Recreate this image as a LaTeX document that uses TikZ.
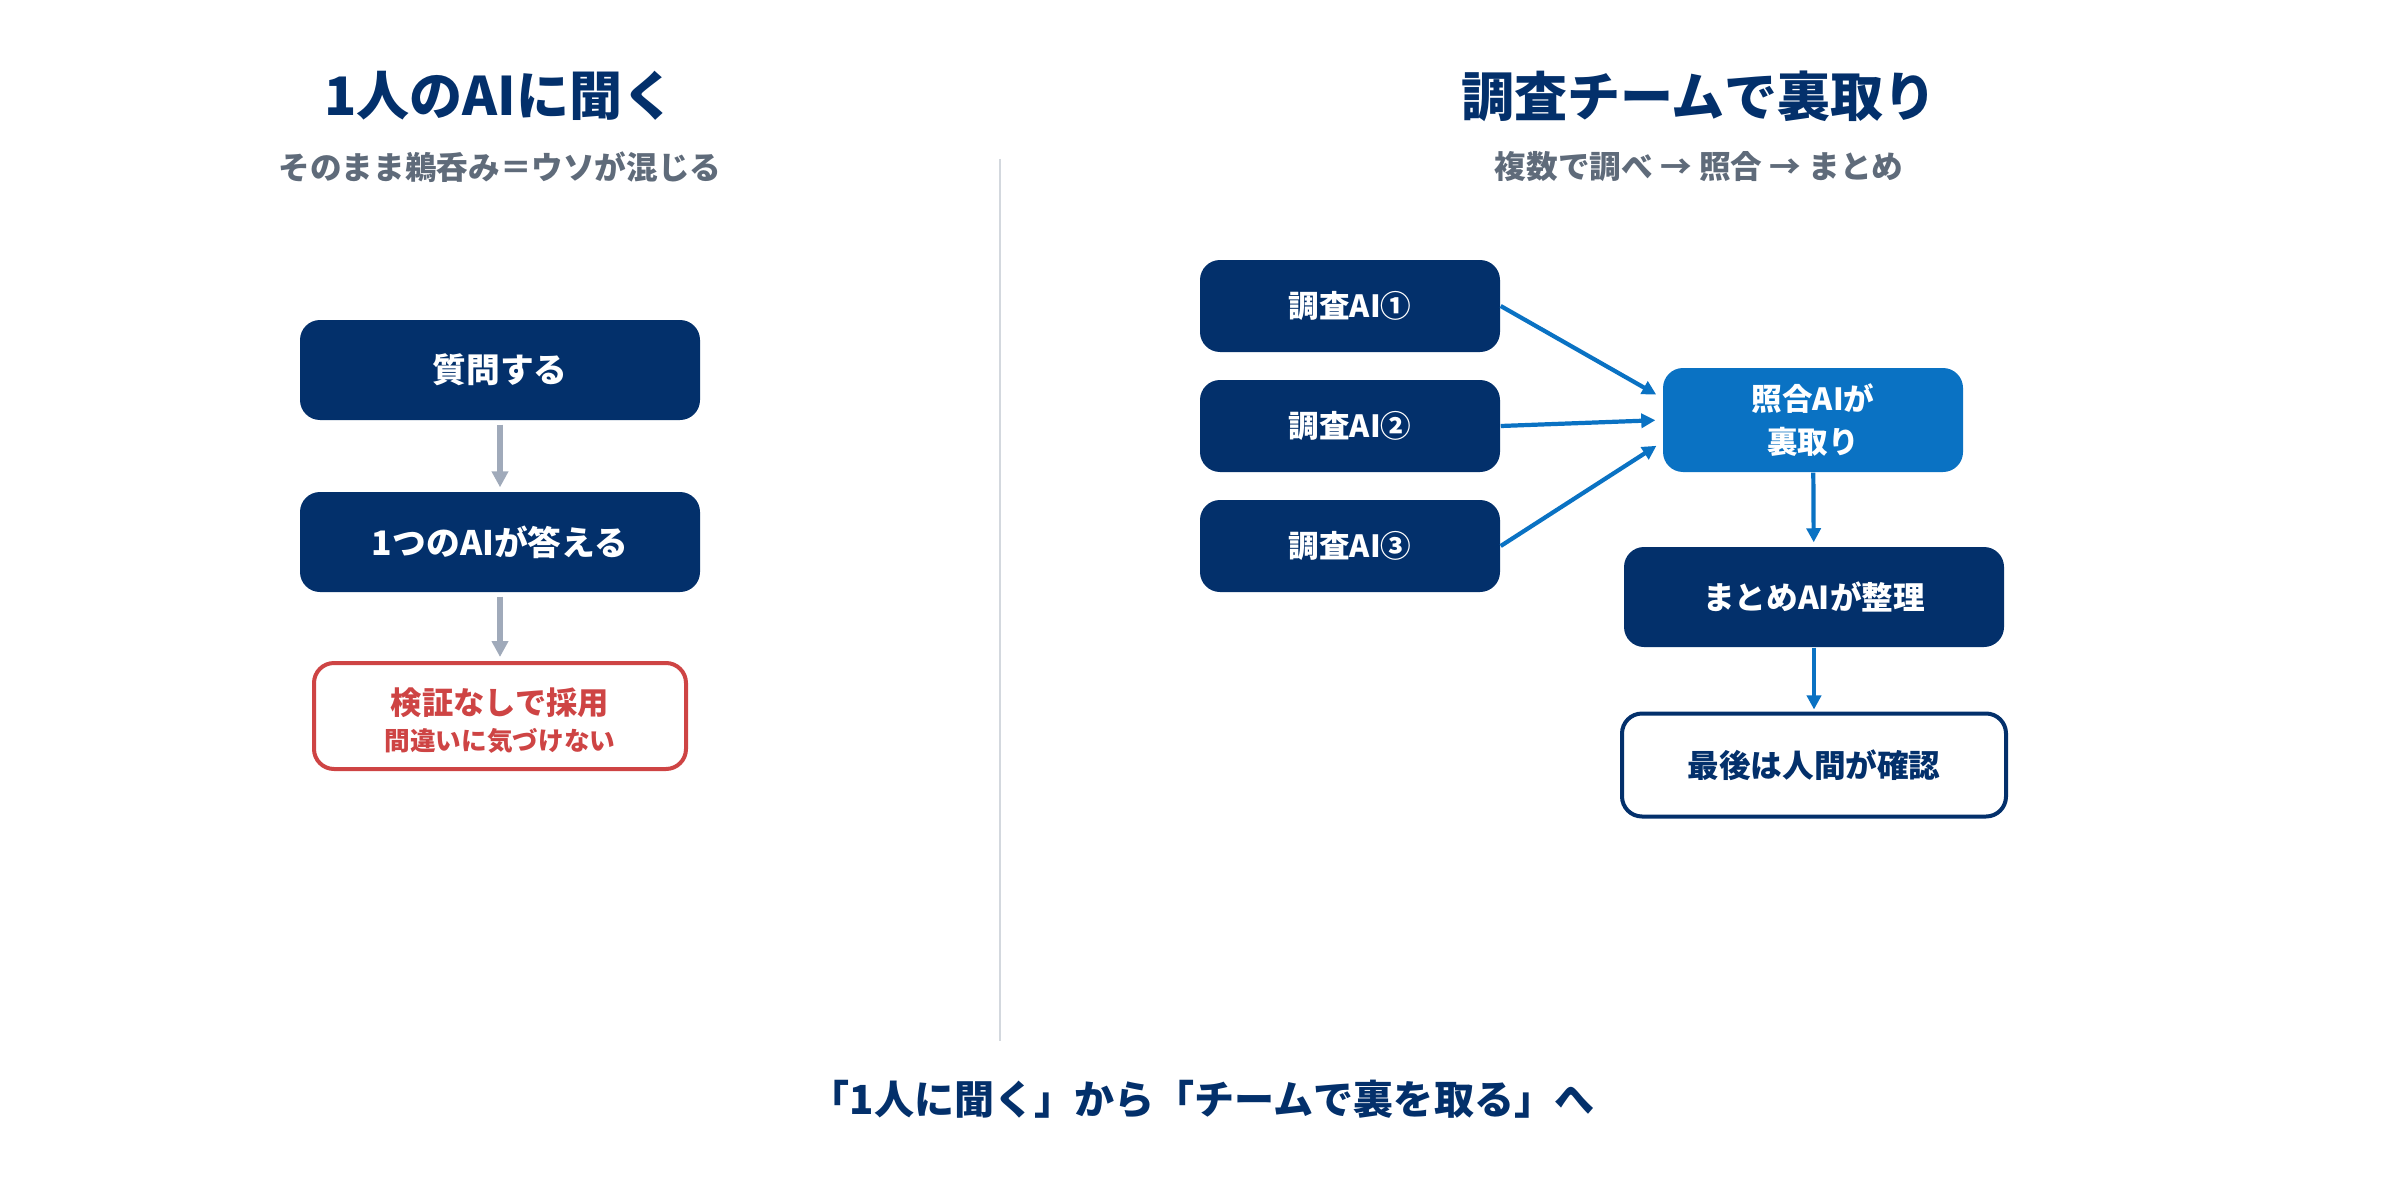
\documentclass[tikz,border=0pt]{standalone}
\usepackage{fontspec}
\setmainfont{Noto Sans CJK JP}
\usetikzlibrary{arrows.meta,positioning,calc}
\definecolor{TeamNavy}{HTML}{03306B}
\definecolor{TeamBlue}{HTML}{0A72C3}
\definecolor{NoteGray}{HTML}{5F6B7A}
\definecolor{ArrowGray}{HTML}{A0AABA}
\definecolor{RuleGray}{HTML}{D3D8DE}
\definecolor{WarnRed}{HTML}{CE4444}

\begin{document}
\begin{tikzpicture}[x=.1mm,y=-.1mm,
  navybox/.style={fill=TeamNavy,text=white,rounded corners=2mm,inner sep=0pt,
    font=\fontsize{9}{12}\selectfont\bfseries,align=center},
  title/.style={TeamNavy,font=\fontsize{15.1}{18}\selectfont\bfseries},
  subtitle/.style={NoteGray,font=\fontsize{9}{11}\selectfont\bfseries},
  grayarrow/.style={-{Triangle[length=4.5pt,width=4.5pt]},ArrowGray,line width=1.7pt,
    shorten <=.4mm,shorten >=.4mm},
  bluearrow/.style={-{Triangle[length=4pt,width=4pt]},TeamBlue,line width=1.2pt}]
  \useasboundingbox (0,0) rectangle (2400,1200);
  % left column
  \node[title] (lefttitle) at (500,96) {1人のAIに聞く};
  \node[subtitle] (leftsub) at (500,167) {そのまま鵜呑み＝ウソが混じる};
  \node[navybox,minimum width=40mm,minimum height=10mm,font=\fontsize{9.6}{12}\selectfont\bfseries]
    (ask) at (500,370) {質問する};
  \node[navybox,minimum width=40mm,minimum height=10mm,font=\fontsize{9.6}{12}\selectfont\bfseries]
    (answer) at (500,542) {1つのAIが答える};
  \node[draw=WarnRed,line width=.4mm,fill=white,rounded corners=2mm,minimum width=37.2mm,
    minimum height=10.6mm,inner sep=0pt] (adopt) at (500,716) {};
  \node[WarnRed,font=\fontsize{8.9}{11}\selectfont\bfseries] (adopthead) at (500,703) {検証なしで採用};
  \node[WarnRed,font=\fontsize{7.3}{9}\selectfont\bfseries] (adoptnote) at (500,741) {間違いに気づけない};
  \draw[grayarrow] (ask) -- (answer);
  \draw[grayarrow] (answer) -- (adopt);
  % divider
  \coordinate (ruletop) at (1000,159);
  \coordinate (rulebot) at (1000,1041);
  \draw[RuleGray,line width=.2mm] (ruletop) -- (rulebot);
  % right column
  \node[title] (righttitle) at (1699,96) {調査チームで裏取り};
  \node[subtitle] (rightsub) at (1699,167) {複数で調べ → 照合 → まとめ};
  \node[navybox,minimum width=30mm,minimum height=9.2mm,font=\fontsize{8.7}{11}\selectfont\bfseries]
    (probe1) at (1350,306) {調査AI①};
  \node[navybox,minimum width=30mm,minimum height=9.2mm,font=\fontsize{8.7}{11}\selectfont\bfseries]
    (probe2) at (1350,426) {調査AI②};
  \node[navybox,minimum width=30mm,minimum height=9.2mm,font=\fontsize{8.7}{11}\selectfont\bfseries]
    (probe3) at (1350,546) {調査AI③};
  \node[navybox,fill=TeamBlue,minimum width=30mm,minimum height=10.4mm,
    font=\fontsize{8.7}{12}\selectfont\bfseries] (verify) at (1813,420) {照合AIが\\裏取り};
  \node[navybox,minimum width=38mm,minimum height=10mm] (summary) at (1814,597) {まとめAIが整理};
  \node[draw=TeamNavy,line width=.4mm,fill=white,text=TeamNavy,rounded corners=2mm,
    minimum width=38.4mm,minimum height=10.3mm,font=\fontsize{9}{12}\selectfont\bfseries]
    (human) at (1814,765) {最後は人間が確認};
  \draw[bluearrow,shorten >=.7mm] (probe1.east) -- ($(verify.west)+(0,-22)$);
  \draw[bluearrow,shorten >=.7mm] (probe2.east) -- (verify.west);
  \draw[bluearrow,shorten >=.7mm] (probe3.east) -- ($(verify.west)+(0,22)$);
  \draw[bluearrow,shorten >=.4mm] (verify) -- (summary);
  \draw[bluearrow,shorten >=.2mm] (summary) -- (human);
  % bottom line
  \node[TeamNavy,font=\fontsize{11.4}{14}\selectfont\bfseries] (motto) at (1202,1099)
    {「1人に聞く」から「チームで裏を取る」へ};
\end{tikzpicture}
\end{document}
